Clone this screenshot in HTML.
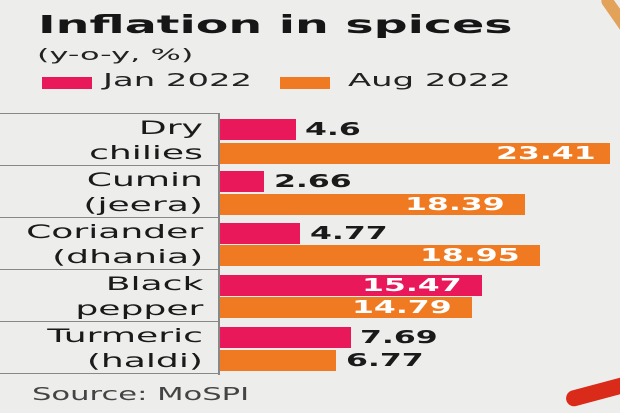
<!DOCTYPE html>
<html><head><style>
body{margin:0;width:620px;height:413px;overflow:hidden;background:#ededec;font-family:"DejaVu Sans","Liberation Sans",sans-serif;position:relative}
.a{position:absolute;white-space:nowrap;transform-origin:0 0}
.t{left:38px;top:10px;font-size:25px;line-height:30px;font-weight:bold;color:#161616;transform:scaleX(1.9)}
.s{left:37px;top:45px;font-size:16px;line-height:20px;color:#222;transform:scaleX(2.0)}
.sw{position:absolute;height:12px;width:50px;top:77px}
.lg{font-size:18px;line-height:20px;color:#222;top:71px;transform:scaleX(1.88)}
.hl{position:absolute;left:0;width:219px;height:1px;background:#888}
.vl{position:absolute;left:218px;top:113px;width:2px;height:262px;background:#888}
.lab{position:absolute;right:417px;font-size:19px;line-height:25px;text-align:right;color:#1a1a1a;transform:scaleX(1.9);transform-origin:100% 0;white-space:nowrap}
.b{position:absolute;left:220px;height:21px}
.p{background:#e8185a}.o{background:#f07a22}
.v{position:absolute;font-size:18px;font-weight:bold;line-height:21px;color:#1a1a1a;transform:scaleX(1.75);transform-origin:0 0;white-space:nowrap}
.w{color:#fff}
</style></head><body>
<div style="position:absolute;right:-10px;top:-10px;width:12px;height:70px;background:#e2a25a;transform:rotate(-35deg);border-radius:6px"></div>
<div style="position:absolute;left:565px;top:382px;width:80px;height:16px;background:#d92a1a;border-radius:10px;transform:rotate(-15deg)"></div>
<div class="a t">Inflation in spices</div>
<div class="a s">(y-o-y, %)</div>
<div class="sw p" style="left:42px"></div>
<div class="a lg" style="left:103px">Jan 2022</div>
<div class="sw o" style="left:280px"></div>
<div class="a lg" style="left:348px">Aug 2022</div>

<div class="hl" style="top:113px"></div>
<div class="hl" style="top:165px"></div>
<div class="hl" style="top:217px"></div>
<div class="hl" style="top:269px"></div>
<div class="hl" style="top:321px"></div>
<div class="hl" style="top:373px"></div>
<div class="vl"></div>

<div class="lab" style="top:116px">Dry<br>chilies</div>
<div class="lab" style="top:168px">Cumin<br>(jeera)</div>
<div class="lab" style="top:220px">Coriander<br>(dhania)</div>
<div class="lab" style="top:272px">Black<br>pepper</div>
<div class="lab" style="top:324px">Turmeric<br>(haldi)</div>

<div class="b p" style="top:119px;width:76px"></div>
<div class="v" style="left:305px;top:119px">4.6</div>
<div class="b o" style="top:143px;width:390px"></div>
<div class="v w" style="left:496px;top:143px">23.41</div>

<div class="b p" style="top:171px;width:44px"></div>
<div class="v" style="left:274px;top:171px">2.66</div>
<div class="b o" style="top:194px;width:305px"></div>
<div class="v w" style="left:405px;top:194px">18.39</div>

<div class="b p" style="top:223px;width:80px"></div>
<div class="v" style="left:310px;top:223px">4.77</div>
<div class="b o" style="top:245px;width:320px"></div>
<div class="v w" style="left:420px;top:245px">18.95</div>

<div class="b p" style="top:275px;width:262px"></div>
<div class="v w" style="left:362px;top:275px">15.47</div>
<div class="b o" style="top:297px;width:252px"></div>
<div class="v w" style="left:352px;top:297px">14.79</div>

<div class="b p" style="top:327px;width:131px"></div>
<div class="v" style="left:360px;top:327px">7.69</div>
<div class="b o" style="top:350px;width:116px"></div>
<div class="v" style="left:346px;top:350px">6.77</div>

<div class="a" style="left:32px;top:385px;font-size:18px;line-height:20px;color:#444;transform:scaleX(1.7)">Source: MoSPI</div>
</body></html>
